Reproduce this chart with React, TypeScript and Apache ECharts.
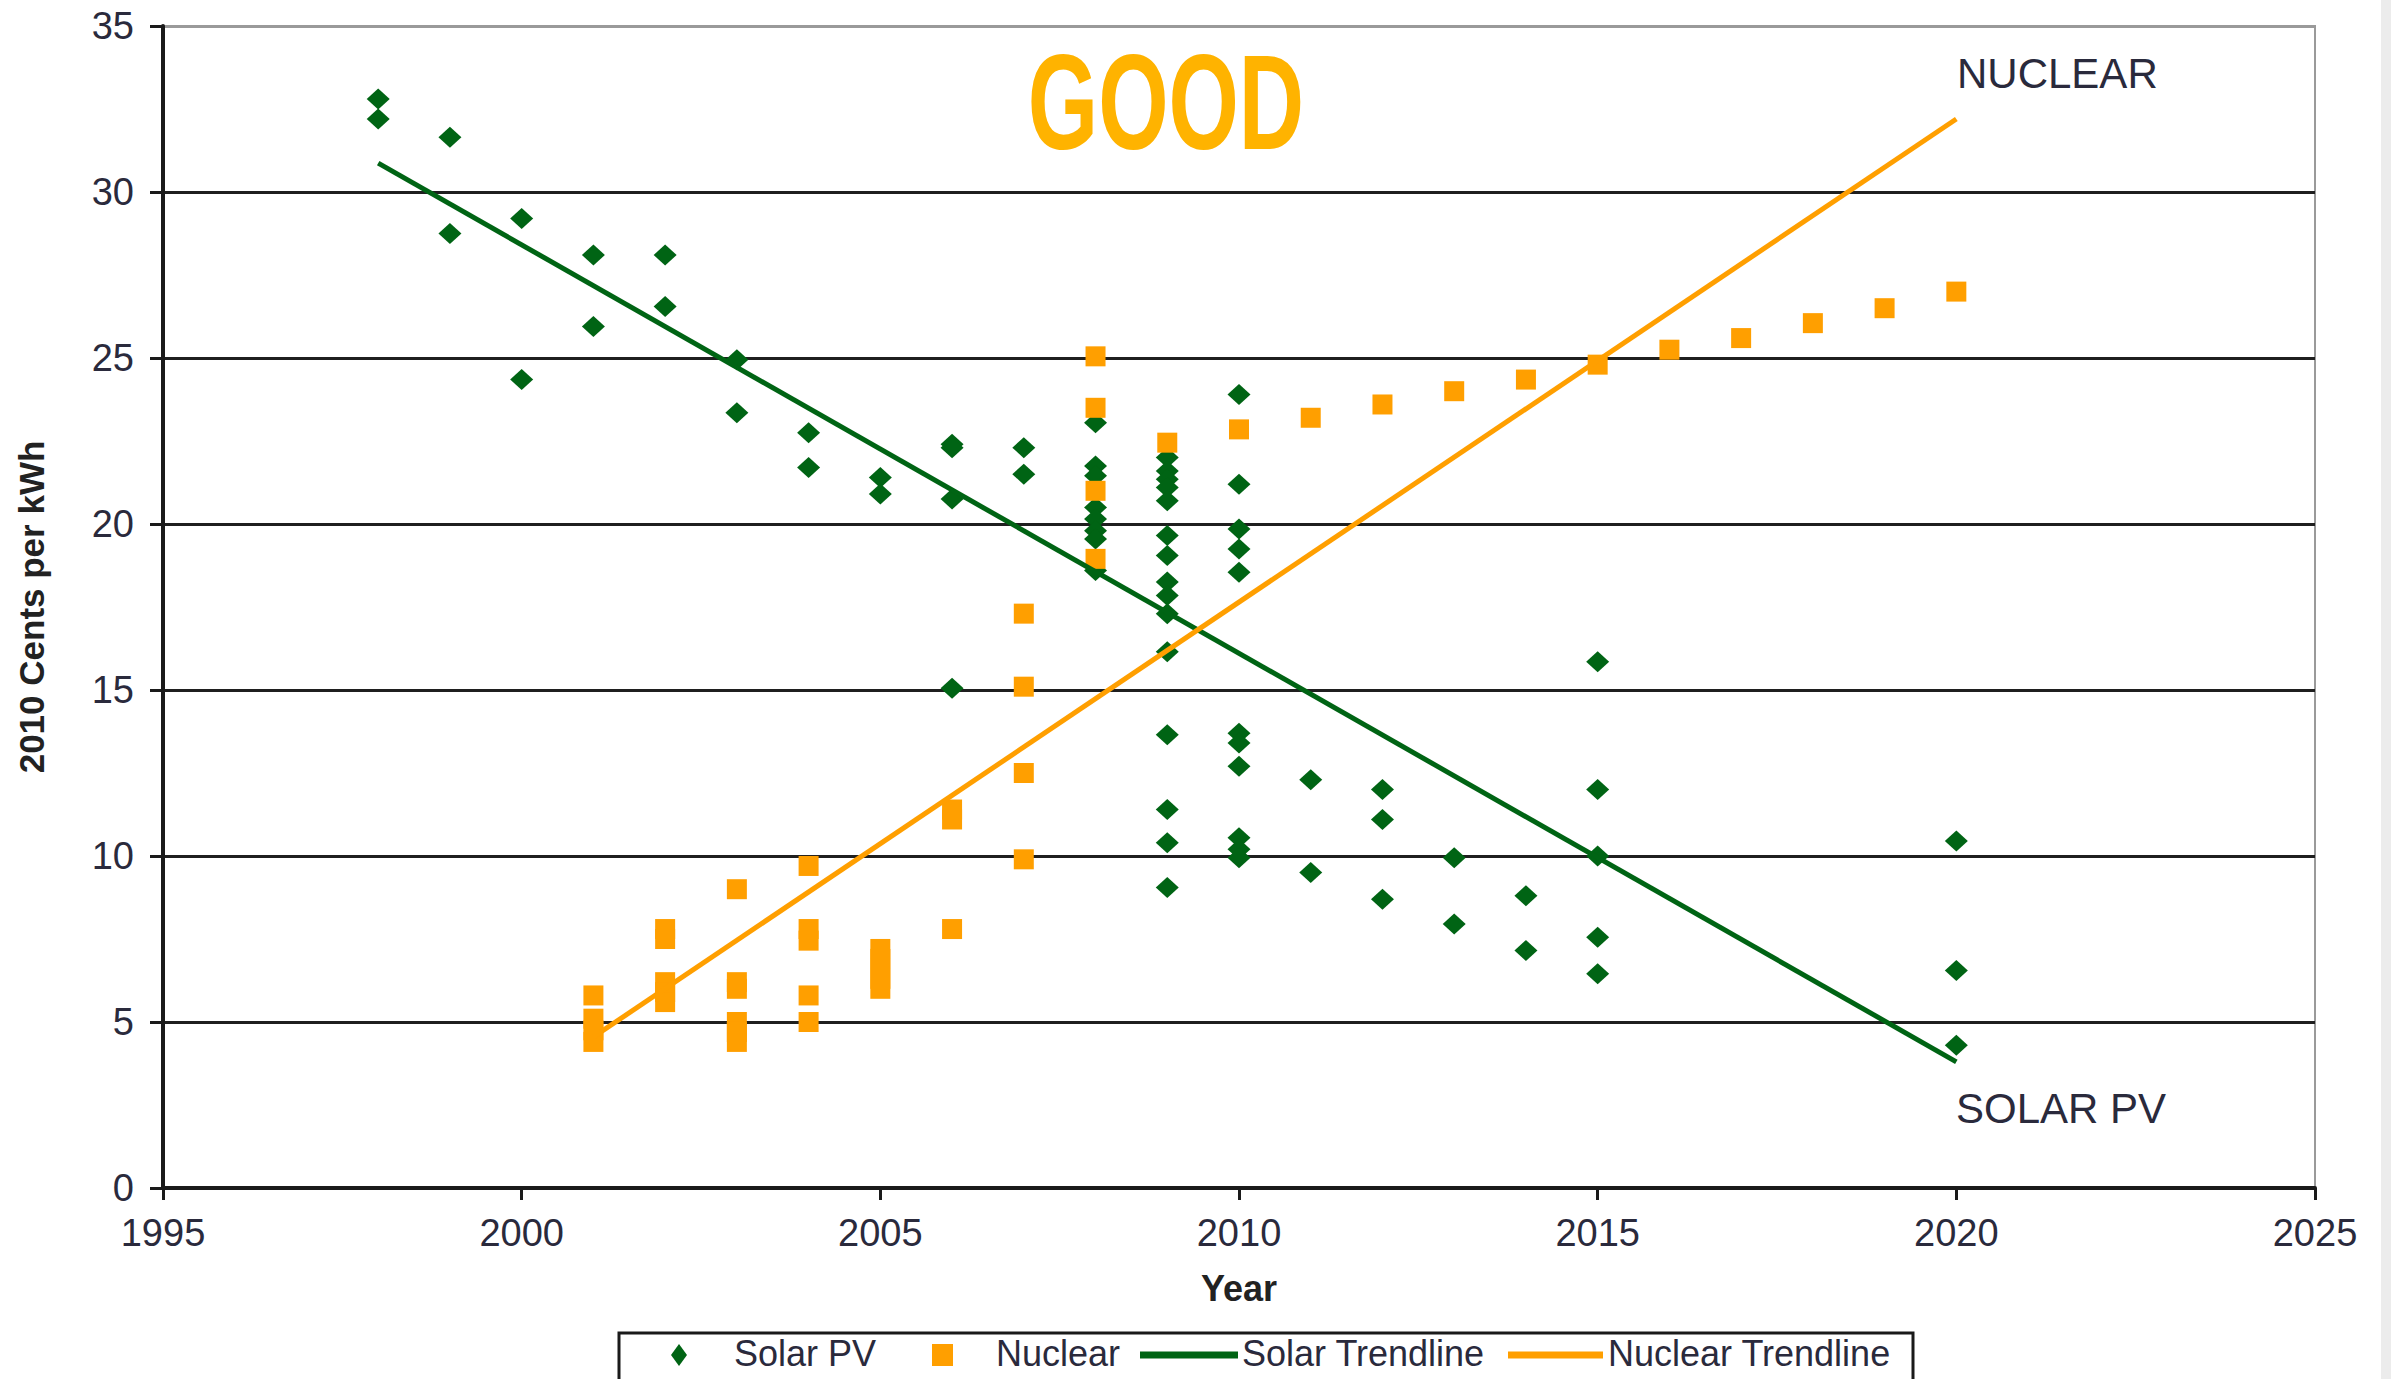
import React, { useEffect, useRef } from "react";
import * as echarts from "echarts";

// ---- Data ----
const xTicks = [1995, 2000, 2005, 2010, 2015, 2020, 2025];
const yTicks = [0, 5, 10, 15, 20, 25, 30, 35];

const solarPV: [number, number][] = [
  [1998, 32.8], [1998, 32.2],
  [1999, 31.65], [1999, 28.75],
  [2000, 29.2], [2000, 24.35],
  [2001, 28.1], [2001, 25.95],
  [2002, 28.1], [2002, 26.55],
  [2003, 24.95], [2003, 23.35],
  [2004, 22.75], [2004, 21.7],
  [2005, 21.4], [2005, 20.9],
  [2006, 22.4], [2006, 22.3], [2006, 20.75], [2006, 15.05],
  [2007, 22.3], [2007, 21.5],
  [2008, 23.05], [2008, 21.75], [2008, 21.45], [2008, 20.5], [2008, 20.15], [2008, 19.8], [2008, 19.55], [2008, 18.6],
  [2009, 22.0], [2009, 21.6], [2009, 21.35], [2009, 21.1], [2009, 20.7], [2009, 19.65], [2009, 19.05], [2009, 18.25],
  [2009, 17.85], [2009, 17.3], [2009, 16.15], [2009, 13.65], [2009, 11.4], [2009, 10.4], [2009, 9.05],
  [2010, 23.9], [2010, 21.2], [2010, 19.85], [2010, 19.25], [2010, 18.55], [2010, 13.7], [2010, 13.4], [2010, 12.7],
  [2010, 10.55], [2010, 10.2], [2010, 9.95],
  [2011, 12.3], [2011, 9.5],
  [2012, 12.0], [2012, 11.1], [2012, 8.7],
  [2013, 9.95], [2013, 7.95],
  [2014, 8.8], [2014, 7.15],
  [2015, 15.85], [2015, 12.0], [2015, 10.0], [2015, 7.55], [2015, 6.45],
  [2020, 10.45], [2020, 6.55], [2020, 4.3],
];

const nuclear: [number, number][] = [
  [2001, 5.8], [2001, 5.1], [2001, 4.75], [2001, 4.4],
  [2002, 7.8], [2002, 7.5], [2002, 6.2], [2002, 5.9], [2002, 5.6],
  [2003, 9.0], [2003, 6.2], [2003, 6.0], [2003, 5.0], [2003, 4.7], [2003, 4.4],
  [2004, 9.7], [2004, 7.8], [2004, 7.45], [2004, 5.8], [2004, 5.0],
  [2005, 7.2], [2005, 6.9], [2005, 6.6], [2005, 6.3], [2005, 6.0],
  [2006, 11.4], [2006, 11.1], [2006, 7.8],
  [2007, 17.3], [2007, 15.1], [2007, 12.5], [2007, 9.9],
  [2008, 25.05], [2008, 23.5], [2008, 21.0], [2008, 18.95],
  [2009, 22.45], [2010, 22.85], [2011, 23.2], [2012, 23.6], [2013, 24.0],
  [2014, 24.35], [2015, 24.8], [2016, 25.25], [2017, 25.6], [2018, 26.05],
  [2019, 26.5], [2020, 27.0],
];

const solarTrend: [number, number][] = [[1998, 30.87], [2020, 3.8]];
const nuclearTrend: [number, number][] = [[2001, 4.55], [2020, 32.2]];

const seriesNames = ["Solar PV", "Nuclear", "Solar Trendline", "Nuclear Trendline"];

const GREEN = "#006414";
const ORANGE = "#ff9f00";
const TEXT = "#2a2a3c";
const FONT = "Liberation Sans, Arial, sans-serif";

export default function App() {
  const ref = useRef<HTMLDivElement>(null);

  useEffect(() => {
    if (!ref.current) return;
    const chart = echarts.init(ref.current, null, { renderer: "svg" });

    const splitColors = yTicks.map((_, i) => (i === yTicks.length - 1 ? "#9a9a9a" : "#1f1f1f"));

    const legendY = 1355;
    const option: any = {
      animation: false,
      backgroundColor: "#ffffff",
      textStyle: { fontFamily: FONT },
      grid: {
        left: 163,
        right: 76,
        top: 26,
        bottom: 191,
        show: true,
        borderColor: "#9a9a9a",
        borderWidth: 2,
        backgroundColor: "transparent",
      },
      xAxis: {
        type: "value",
        min: xTicks[0],
        max: xTicks[xTicks.length - 1],
        interval: 5,
        name: "Year",
        nameLocation: "middle",
        nameGap: 82,
        nameTextStyle: { fontSize: 36, fontWeight: "bold", color: "#222", fontFamily: FONT },
        axisLine: { show: true, onZero: false, lineStyle: { color: "#1a1a1a", width: 4 } },
        axisTick: { show: true, length: 12, lineStyle: { color: "#1a1a1a", width: 3 } },
        axisLabel: {
          fontSize: 38,
          color: TEXT,
          margin: 26,
          fontFamily: FONT,
          formatter: (v: number) => String(v),
        },
        splitLine: { show: false },
      },
      yAxis: {
        type: "value",
        min: yTicks[0],
        max: yTicks[yTicks.length - 1],
        interval: 5,
        name: "2010 Cents per kWh",
        nameLocation: "middle",
        nameGap: 114,
        nameTextStyle: { fontSize: 35, fontWeight: "bold", color: "#222", fontFamily: FONT },
        axisLine: { show: true, onZero: false, lineStyle: { color: "#1a1a1a", width: 4 } },
        axisTick: { show: true, length: 13, lineStyle: { color: "#1a1a1a", width: 3 } },
        axisLabel: { fontSize: 38, color: TEXT, margin: 29, fontFamily: FONT },
        splitLine: { show: true, lineStyle: { color: splitColors, width: 3 } },
      },
      series: [
        {
          name: seriesNames[0],
          type: "scatter",
          symbol: "diamond",
          symbolSize: [23, 21],
          itemStyle: { color: GREEN, opacity: 1 },
          data: solarPV,
        },
        {
          name: seriesNames[1],
          type: "scatter",
          symbol: "rect",
          symbolSize: 20,
          itemStyle: { color: ORANGE, opacity: 1 },
          data: nuclear,
        },
        {
          name: seriesNames[2],
          type: "line",
          symbol: "none",
          lineStyle: { color: GREEN, width: 5 },
          data: solarTrend,
        },
        {
          name: seriesNames[3],
          type: "line",
          symbol: "none",
          lineStyle: { color: ORANGE, width: 5 },
          data: nuclearTrend,
        },
      ],
      graphic: [
        {
          type: "rect",
          shape: { x: 2381, y: 0, width: 10, height: 1379 },
          style: { fill: "#ececec" },
          silent: true,
        },
        {
          type: "text",
          x: 1166,
          y: 102,
          scaleX: 0.67,
          style: {
            text: "GOOD",
            fontSize: 135,
            fontWeight: "bold",
            fontFamily: FONT,
            fill: "#ffb300",
            align: "center",
            verticalAlign: "middle",
          },
        },
        {
          type: "text",
          x: 1957,
          y: 73,
          style: { text: "NUCLEAR", fontSize: 42, fontFamily: FONT, fill: TEXT, align: "left", verticalAlign: "middle" },
        },
        {
          type: "text",
          x: 1956,
          y: 1108,
          style: { text: "SOLAR PV", fontSize: 42, fontFamily: FONT, fill: TEXT, align: "left", verticalAlign: "middle" },
        },
        // legend box
        {
          type: "rect",
          shape: { x: 619, y: 1333, width: 1294, height: 70 },
          style: { fill: "#ffffff", stroke: "#1a1a1a", lineWidth: 3 },
        },
        {
          type: "polygon",
          shape: { points: [[679, legendY - 11], [687, legendY], [679, legendY + 11], [671, legendY]] },
          style: { fill: GREEN },
        },
        {
          type: "text",
          x: 734,
          y: legendY - 2,
          style: { text: seriesNames[0], fontSize: 36, fontFamily: FONT, fill: TEXT, align: "left", verticalAlign: "middle" },
        },
        {
          type: "rect",
          shape: { x: 932, y: legendY - 11, width: 21, height: 22 },
          style: { fill: ORANGE },
        },
        {
          type: "text",
          x: 996,
          y: legendY - 2,
          style: { text: seriesNames[1], fontSize: 36, fontFamily: FONT, fill: TEXT, align: "left", verticalAlign: "middle" },
        },
        {
          type: "line",
          shape: { x1: 1140, y1: legendY, x2: 1238, y2: legendY },
          style: { stroke: GREEN, lineWidth: 7 },
        },
        {
          type: "text",
          x: 1242,
          y: legendY - 2,
          style: { text: seriesNames[2], fontSize: 36, fontFamily: FONT, fill: TEXT, align: "left", verticalAlign: "middle" },
        },
        {
          type: "line",
          shape: { x1: 1508, y1: legendY, x2: 1603, y2: legendY },
          style: { stroke: ORANGE, lineWidth: 7 },
        },
        {
          type: "text",
          x: 1608,
          y: legendY - 2,
          style: { text: seriesNames[3], fontSize: 36, fontFamily: FONT, fill: TEXT, align: "left", verticalAlign: "middle" },
        },
      ],
    };

    chart.setOption(option);
    return () => chart.dispose();
  }, []);

  return (
    <div
      ref={ref}
      style={{ position: "fixed", left: 0, top: 0, width: 2391, height: 1379, background: "#fff" }}
    />
  );
}
